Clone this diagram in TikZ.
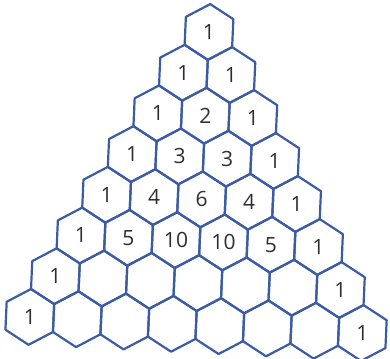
\documentclass[tikz,border=0pt]{standalone}
\usepackage{fontspec}
\setmainfont{Open Sans}
\usetikzlibrary{positioning}
\definecolor{hexline}{HTML}{3B5CA4}
\definecolor{numink}{HTML}{2E2E2E}

\begin{document}
\begin{tikzpicture}[
  x={(47.5pt,-2.3pt)}, y={(-25.6pt,-40.7pt)},
  line width=2.2pt, line join=round,
  cell/.style = {draw=hexline, line width=2.2pt},
  num/.style  = {font=\fontsize{21}{21}\selectfont, color=numink, inner sep=0pt}
]
\useasboundingbox (-209pt,32pt) rectangle (181pt,-326pt);

% hexagon grid: row \r, cell \k
\foreach \r in {0,...,7}
  \foreach \k in {0,...,\r}
    \draw[cell] (\k,\r) ++(-1/3,-2/3) -- ++(2/3,1/3) -- ++(1/3,2/3)
      -- ++(-1/3,1/3) -- ++(-2/3,-1/3) -- ++(-1/3,-2/3) -- cycle;

% numbers of the filled rows
\foreach \r/\vals in {0/{1}, 1/{1,1}, 2/{1,2,1}, 3/{1,3,3,1},
                      4/{1,4,6,4,1}, 5/{1,5,10,10,5,1}}
  \foreach \v [count=\k from 0] in \vals
    \node[num] (n\r-\k) at (\k,\r) {\v};

% only the ends of the last two rows
\node[num] (n6-0) at (0,6) {1};
\node[num] (n6-6) at (6,6) {1};
\node[num] (n7-0) at (0,7) {1};
\node[num] (n7-7) at (7,7) {1};

\end{tikzpicture}
\end{document}
